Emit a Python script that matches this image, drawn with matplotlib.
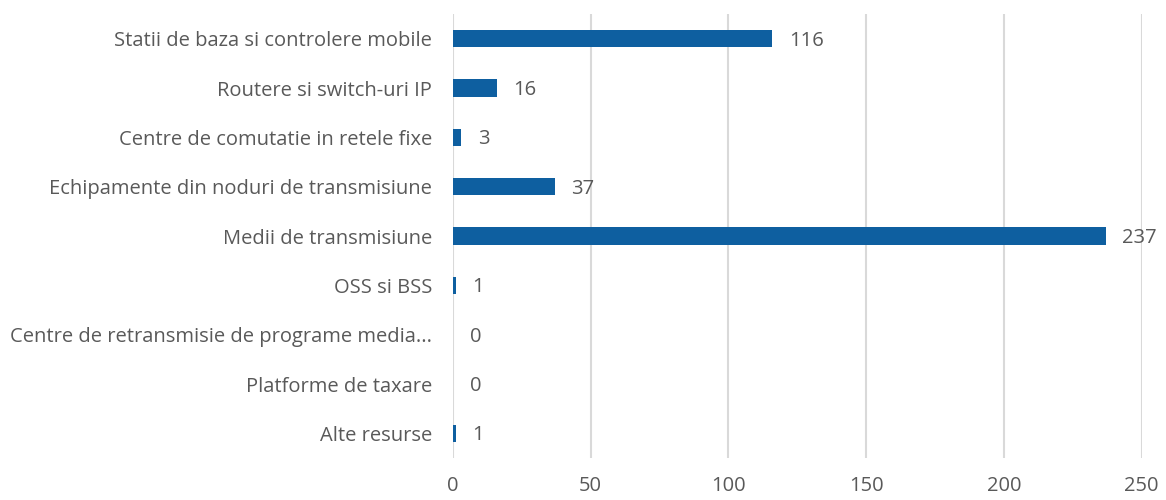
import matplotlib.pyplot as plt
import numpy as np

plt.rcParams['font.family'] = ['Open Sans', 'DejaVu Sans']

categorii = ['Statii de baza si controlere mobile',
             'Routere si switch-uri IP',
             'Centre de comutatie in retele fixe',
             'Echipamente din noduri de transmisiune',
             'Medii de transmisiune',
             'OSS si BSS',
             'Centre de retransmisie de programe media...',
             'Platforme de taxare',
             'Alte resurse']
valori = [116, 16, 3, 37, 237, 1, 0, 0, 1]
x_ticks = [0, 50, 100, 150, 200, 250]

culoare = '#0e5fa0'
text_col = '#595959'
fs = 14.5

fig = plt.figure(figsize=(11.66, 5), dpi=100)
ax = fig.add_axes([0.3885, 0.084, 0.5905, 0.888])

y = np.arange(len(categorii))
ax.barh(y, valori, height=0.35, color=culoare, zorder=3)
for yi, v in zip(y, valori):
    ax.text(v + 6, yi + 0.04, str(v), va='center', ha='left', fontsize=fs, color=text_col)

ax.set_yticks(y)
ax.set_yticklabels(categorii, fontsize=fs, color=text_col)
ax.set_ylim(len(categorii) - 0.5, -0.5)
ax.set_xlim(0, 250)
ax.set_xticks(x_ticks)
ax.set_xticklabels([str(t) for t in x_ticks], fontsize=fs, color=text_col)
ax.tick_params(axis='both', length=0)
ax.tick_params(axis='x', pad=13)
ax.tick_params(axis='y', pad=15)
ax.grid(axis='x', color='#d9d9d9', linewidth=1.5, zorder=0)
for s in ax.spines.values():
    s.set_visible(False)

fig.savefig('out.png', dpi=100)
